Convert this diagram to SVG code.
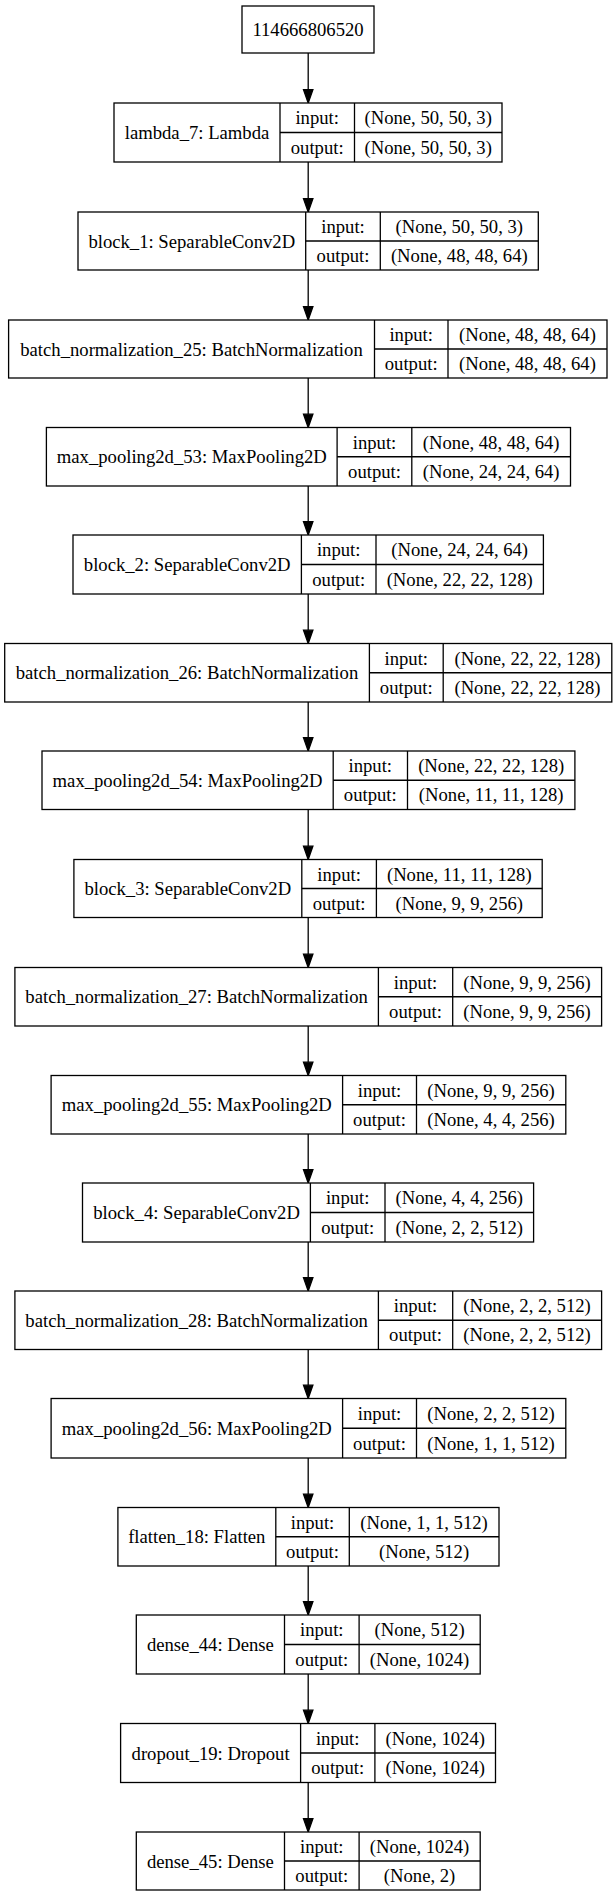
<svg xmlns="http://www.w3.org/2000/svg" width="616" height="1896" viewBox="0 0 616 1896">
<style>
rect.b{fill:#fff;stroke:#000;stroke-width:1.3}
line.d{stroke:#000;stroke-width:1.3}
text{font-family:"Liberation Serif","Times New Roman",serif;font-size:18.67px;text-anchor:middle;fill:#000}
.e line{stroke:#000;stroke-width:1.3}
.e polygon{fill:#000;stroke:#000;stroke-width:1.3}
</style>
<rect width="616" height="1896" fill="#fff"/>
<g id="edges" class="e">
<line x1="308.2" y1="53" x2="308.2" y2="89.7"/><polygon points="303.5,89.7 312.9,89.7 308.2,103"/>
<line x1="308.2" y1="162" x2="308.2" y2="198.7"/><polygon points="303.5,198.7 312.9,198.7 308.2,212"/>
<line x1="308.2" y1="270" x2="308.2" y2="306.7"/><polygon points="303.5,306.7 312.9,306.7 308.2,320"/>
<line x1="308.2" y1="378" x2="308.2" y2="414.2"/><polygon points="303.5,414.2 312.9,414.2 308.2,427.5"/>
<line x1="308.2" y1="486" x2="308.2" y2="521.7"/><polygon points="303.5,521.7 312.9,521.7 308.2,535"/>
<line x1="308.2" y1="594" x2="308.2" y2="630.2"/><polygon points="303.5,630.2 312.9,630.2 308.2,643.5"/>
<line x1="308.2" y1="702" x2="308.2" y2="737.7"/><polygon points="303.5,737.7 312.9,737.7 308.2,751"/>
<line x1="308.2" y1="809.5" x2="308.2" y2="846.2"/><polygon points="303.5,846.2 312.9,846.2 308.2,859.5"/>
<line x1="308.2" y1="917.5" x2="308.2" y2="954.2"/><polygon points="303.5,954.2 312.9,954.2 308.2,967.5"/>
<line x1="308.2" y1="1026" x2="308.2" y2="1062.2"/><polygon points="303.5,1062.2 312.9,1062.2 308.2,1075.5"/>
<line x1="308.2" y1="1134" x2="308.2" y2="1169.7"/><polygon points="303.5,1169.7 312.9,1169.7 308.2,1183"/>
<line x1="308.2" y1="1242" x2="308.2" y2="1277.7"/><polygon points="303.5,1277.7 312.9,1277.7 308.2,1291"/>
<line x1="308.2" y1="1349.5" x2="308.2" y2="1385.2"/><polygon points="303.5,1385.2 312.9,1385.2 308.2,1398.5"/>
<line x1="308.2" y1="1458" x2="308.2" y2="1494.2"/><polygon points="303.5,1494.2 312.9,1494.2 308.2,1507.5"/>
<line x1="308.2" y1="1566" x2="308.2" y2="1601.7"/><polygon points="303.5,1601.7 312.9,1601.7 308.2,1615"/>
<line x1="308.2" y1="1674" x2="308.2" y2="1710.2"/><polygon points="303.5,1710.2 312.9,1710.2 308.2,1723.5"/>
<line x1="308.2" y1="1782.5" x2="308.2" y2="1818.7"/><polygon points="303.5,1818.7 312.9,1818.7 308.2,1832"/>
</g>
<g id="n0"><rect class="b" x="242" y="6" width="132" height="47"/><text x="308" y="36">114666806520</text></g>
<g id="n1"><rect class="b" x="114" y="103" width="388" height="59"/><line class="d" x1="280" y1="103" x2="280" y2="162"/><line class="d" x1="354.5" y1="103" x2="354.5" y2="162"/><line class="d" x1="280" y1="132.5" x2="502" y2="132.5"/>
<text x="197" y="139">lambda_7: Lambda</text><text x="317.2" y="124.2">input:</text><text x="317.2" y="153.7">output:</text><text x="428.2" y="124.2">(None, 50, 50, 3)</text><text x="428.2" y="153.7">(None, 50, 50, 3)</text></g>
<g id="n2"><rect class="b" x="78" y="212" width="460.3" height="58"/><line class="d" x1="305.7" y1="212" x2="305.7" y2="270"/><line class="d" x1="380.3" y1="212" x2="380.3" y2="270"/><line class="d" x1="305.7" y1="241" x2="538.3" y2="241"/>
<text x="191.8" y="247.5">block_1: SeparableConv2D</text><text x="343" y="233">input:</text><text x="343" y="262">output:</text><text x="459.3" y="233">(None, 50, 50, 3)</text><text x="459.3" y="262">(None, 48, 48, 64)</text></g>
<g id="n3"><rect class="b" x="8.6" y="320" width="598.4" height="58"/><line class="d" x1="374.5" y1="320" x2="374.5" y2="378"/><line class="d" x1="448" y1="320" x2="448" y2="378"/><line class="d" x1="374.5" y1="349" x2="607" y2="349"/>
<text x="191.5" y="355.5">batch_normalization_25: BatchNormalization</text><text x="411.2" y="341">input:</text><text x="411.2" y="370">output:</text><text x="527.5" y="341">(None, 48, 48, 64)</text><text x="527.5" y="370">(None, 48, 48, 64)</text></g>
<g id="n4"><rect class="b" x="46.4" y="427.5" width="524.1" height="58.5"/><line class="d" x1="337.1" y1="427.5" x2="337.1" y2="486"/><line class="d" x1="411.8" y1="427.5" x2="411.8" y2="486"/><line class="d" x1="337.1" y1="456.75" x2="570.5" y2="456.75"/>
<text x="191.8" y="463.3">max_pooling2d_53: MaxPooling2D</text><text x="374.5" y="448.6">input:</text><text x="374.5" y="477.9">output:</text><text x="491.2" y="448.6">(None, 48, 48, 64)</text><text x="491.2" y="477.9">(None, 24, 24, 64)</text></g>
<g id="n5"><rect class="b" x="73" y="535" width="470.4" height="59"/><line class="d" x1="301.4" y1="535" x2="301.4" y2="594"/><line class="d" x1="376" y1="535" x2="376" y2="594"/><line class="d" x1="301.4" y1="564.5" x2="543.4" y2="564.5"/>
<text x="187.2" y="571">block_2: SeparableConv2D</text><text x="338.7" y="556.3">input:</text><text x="338.7" y="585.8">output:</text><text x="459.7" y="556.3">(None, 24, 24, 64)</text><text x="459.7" y="585.8">(None, 22, 22, 128)</text></g>
<g id="n6"><rect class="b" x="4.7" y="643.5" width="607.1" height="58.5"/><line class="d" x1="369.4" y1="643.5" x2="369.4" y2="702"/><line class="d" x1="443.2" y1="643.5" x2="443.2" y2="702"/><line class="d" x1="369.4" y1="672.75" x2="611.8" y2="672.75"/>
<text x="187" y="679.3">batch_normalization_26: BatchNormalization</text><text x="406.3" y="664.6">input:</text><text x="406.3" y="693.9">output:</text><text x="527.5" y="664.6">(None, 22, 22, 128)</text><text x="527.5" y="693.9">(None, 22, 22, 128)</text></g>
<g id="n7"><rect class="b" x="42" y="751" width="532.9" height="58.5"/><line class="d" x1="333.2" y1="751" x2="333.2" y2="809.5"/><line class="d" x1="407.5" y1="751" x2="407.5" y2="809.5"/><line class="d" x1="333.2" y1="780.25" x2="574.9" y2="780.25"/>
<text x="187.6" y="786.8">max_pooling2d_54: MaxPooling2D</text><text x="370.3" y="772.1">input:</text><text x="370.3" y="801.4">output:</text><text x="491.2" y="772.1">(None, 22, 22, 128)</text><text x="491.2" y="801.4">(None, 11, 11, 128)</text></g>
<g id="n8"><rect class="b" x="73.9" y="859.5" width="468.3" height="58"/><line class="d" x1="301.8" y1="859.5" x2="301.8" y2="917.5"/><line class="d" x1="376.4" y1="859.5" x2="376.4" y2="917.5"/><line class="d" x1="301.8" y1="888.5" x2="542.2" y2="888.5"/>
<text x="187.8" y="895">block_3: SeparableConv2D</text><text x="339.1" y="880.5">input:</text><text x="339.1" y="909.5">output:</text><text x="459.3" y="880.5">(None, 11, 11, 128)</text><text x="459.3" y="909.5">(None, 9, 9, 256)</text></g>
<g id="n9"><rect class="b" x="14.9" y="967.5" width="586.7" height="58.5"/><line class="d" x1="378.4" y1="967.5" x2="378.4" y2="1026"/><line class="d" x1="452.7" y1="967.5" x2="452.7" y2="1026"/><line class="d" x1="378.4" y1="996.75" x2="601.6" y2="996.75"/>
<text x="196.6" y="1003.3">batch_normalization_27: BatchNormalization</text><text x="415.5" y="988.6">input:</text><text x="415.5" y="1017.9">output:</text><text x="527.1" y="988.6">(None, 9, 9, 256)</text><text x="527.1" y="1017.9">(None, 9, 9, 256)</text></g>
<g id="n10"><rect class="b" x="51.1" y="1075.5" width="514.7" height="58.5"/><line class="d" x1="342.6" y1="1075.5" x2="342.6" y2="1134"/><line class="d" x1="416.5" y1="1075.5" x2="416.5" y2="1134"/><line class="d" x1="342.6" y1="1104.75" x2="565.8" y2="1104.75"/>
<text x="196.8" y="1111.3">max_pooling2d_55: MaxPooling2D</text><text x="379.5" y="1096.6">input:</text><text x="379.5" y="1125.9">output:</text><text x="491.1" y="1096.6">(None, 9, 9, 256)</text><text x="491.1" y="1125.9">(None, 4, 4, 256)</text></g>
<g id="n11"><rect class="b" x="82.5" y="1183" width="451.1" height="59"/><line class="d" x1="310.4" y1="1183" x2="310.4" y2="1242"/><line class="d" x1="385" y1="1183" x2="385" y2="1242"/><line class="d" x1="310.4" y1="1212.5" x2="533.6" y2="1212.5"/>
<text x="196.5" y="1219">block_4: SeparableConv2D</text><text x="347.7" y="1204.3">input:</text><text x="347.7" y="1233.8">output:</text><text x="459.3" y="1204.3">(None, 4, 4, 256)</text><text x="459.3" y="1233.8">(None, 2, 2, 512)</text></g>
<g id="n12"><rect class="b" x="14.9" y="1291" width="586.7" height="58.5"/><line class="d" x1="378.4" y1="1291" x2="378.4" y2="1349.5"/><line class="d" x1="452.7" y1="1291" x2="452.7" y2="1349.5"/><line class="d" x1="378.4" y1="1320.25" x2="601.6" y2="1320.25"/>
<text x="196.6" y="1326.8">batch_normalization_28: BatchNormalization</text><text x="415.5" y="1312.1">input:</text><text x="415.5" y="1341.4">output:</text><text x="527.1" y="1312.1">(None, 2, 2, 512)</text><text x="527.1" y="1341.4">(None, 2, 2, 512)</text></g>
<g id="n13"><rect class="b" x="51.1" y="1398.5" width="514.7" height="59.5"/><line class="d" x1="342.6" y1="1398.5" x2="342.6" y2="1458"/><line class="d" x1="416.5" y1="1398.5" x2="416.5" y2="1458"/><line class="d" x1="342.6" y1="1428.25" x2="565.8" y2="1428.25"/>
<text x="196.8" y="1434.8">max_pooling2d_56: MaxPooling2D</text><text x="379.5" y="1419.9">input:</text><text x="379.5" y="1449.6">output:</text><text x="491.1" y="1419.9">(None, 2, 2, 512)</text><text x="491.1" y="1449.6">(None, 1, 1, 512)</text></g>
<g id="n14"><rect class="b" x="117.9" y="1507.5" width="381.1" height="58.5"/><line class="d" x1="275.8" y1="1507.5" x2="275.8" y2="1566"/><line class="d" x1="349.3" y1="1507.5" x2="349.3" y2="1566"/><line class="d" x1="275.8" y1="1536.75" x2="499" y2="1536.75"/>
<text x="196.8" y="1543.3">flatten_18: Flatten</text><text x="312.5" y="1528.6">input:</text><text x="312.5" y="1557.9">output:</text><text x="424.1" y="1528.6">(None, 1, 1, 512)</text><text x="424.1" y="1557.9">(None, 512)</text></g>
<g id="n15"><rect class="b" x="136.3" y="1615" width="343.9" height="59"/><line class="d" x1="284.5" y1="1615" x2="284.5" y2="1674"/><line class="d" x1="359.1" y1="1615" x2="359.1" y2="1674"/><line class="d" x1="284.5" y1="1644.5" x2="480.2" y2="1644.5"/>
<text x="210.4" y="1651">dense_44: Dense</text><text x="321.8" y="1636.3">input:</text><text x="321.8" y="1665.8">output:</text><text x="419.6" y="1636.3">(None, 512)</text><text x="419.6" y="1665.8">(None, 1024)</text></g>
<g id="n16"><rect class="b" x="120.6" y="1723.5" width="374.9" height="59"/><line class="d" x1="300.6" y1="1723.5" x2="300.6" y2="1782.5"/><line class="d" x1="374.9" y1="1723.5" x2="374.9" y2="1782.5"/><line class="d" x1="300.6" y1="1753" x2="495.5" y2="1753"/>
<text x="210.6" y="1759.5">dropout_19: Dropout</text><text x="337.7" y="1744.8">input:</text><text x="337.7" y="1774.3">output:</text><text x="435.2" y="1744.8">(None, 1024)</text><text x="435.2" y="1774.3">(None, 1024)</text></g>
<g id="n17"><rect class="b" x="136.3" y="1832" width="343.9" height="58"/><line class="d" x1="284.5" y1="1832" x2="284.5" y2="1890"/><line class="d" x1="359.1" y1="1832" x2="359.1" y2="1890"/><line class="d" x1="284.5" y1="1861" x2="480.2" y2="1861"/>
<text x="210.4" y="1867.5">dense_45: Dense</text><text x="321.8" y="1853">input:</text><text x="321.8" y="1882">output:</text><text x="419.6" y="1853">(None, 1024)</text><text x="419.6" y="1882">(None, 2)</text></g>
</svg>
